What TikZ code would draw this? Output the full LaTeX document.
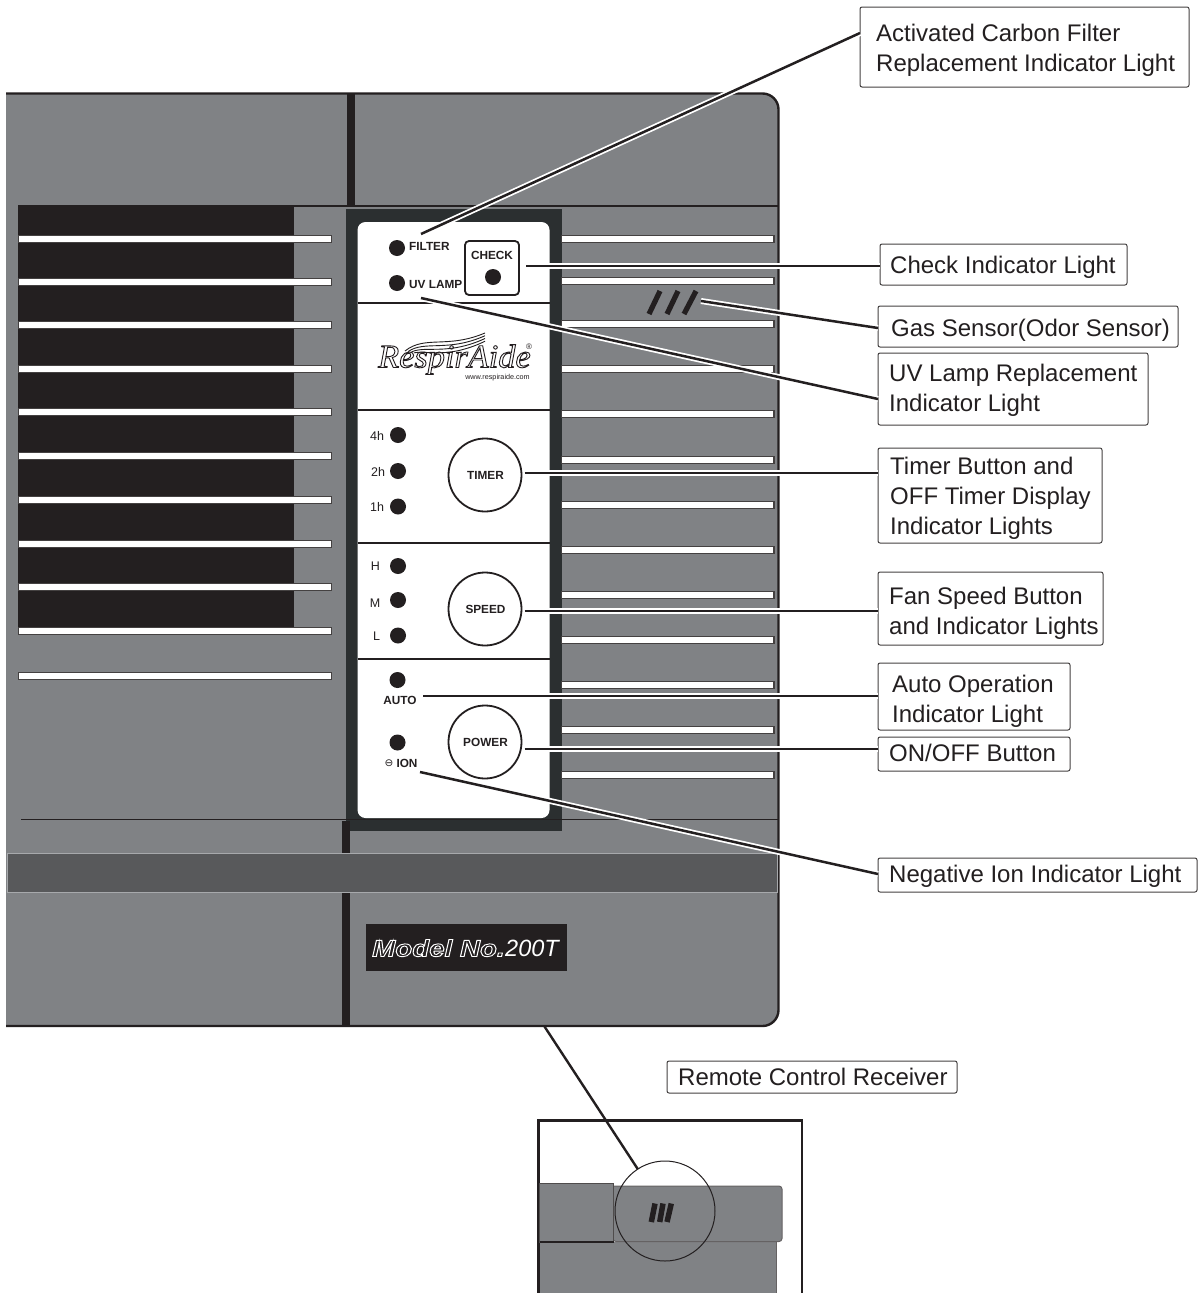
\documentclass[tikz,border=0pt]{standalone}
\usepackage{fontspec}
\setmainfont{Liberation Sans}
\newfontfamily\dejavu{DejaVu Sans}
\newfontfamily\logoserif{Liberation Serif}
\newcommand{\strokedtext}[3]{\special{pdf:code #1 RG #2 w 1 Tr}#3\special{pdf:code 0 Tr}}
\definecolor{ink}{HTML}{231F20}
\definecolor{body}{HTML}{808285}
\definecolor{panel}{HTML}{2B2F30}
\definecolor{band}{HTML}{58595B}
\definecolor{bandedge}{HTML}{A7A9AC}
\tikzset{
  lbl/.style={draw=ink!85,line width=1pt,rounded corners=2pt,fill=white,inner sep=0pt,outer sep=0pt},
  lbltext/.style={anchor=west,text=ink,align=left,inner sep=0pt,font=\fontsize{24}{30}\selectfont},
  leader/.style={draw=ink,line width=2.5pt,preaction={draw=white,line width=6pt}},
  slat/.style={draw=ink!85,line width=1.1pt,fill=white},
  sep/.style={draw=ink,line width=2.4pt},
  lamp/.style={circle,fill=ink,minimum size=16pt,inner sep=0pt,outer sep=0pt},
  btn/.style={circle,draw=ink,line width=1.8pt,fill=white,minimum size=73pt,inner sep=0pt,outer sep=0pt,text=ink,
    font=\fontsize{11.8}{12}\selectfont\bfseries},
  bold/.style={inner sep=0pt,text=ink,font=\fontsize{11.8}{12}\selectfont\bfseries},
  reg/.style={inner sep=0pt,text=ink,font=\fontsize{12.5}{13}\selectfont},
  slant/.style={draw=ink,line width=5.2pt},
}
\begin{document}
\begin{tikzpicture}[x=1pt,y=-1pt]
\useasboundingbox (0,0) rectangle (1204,1293);
% body
\begin{scope}
\clip (6,0) rectangle (800,1100);
\fill[body,rounded corners=16pt] (-40,93.5) rectangle (778.5,1026);
\draw[ink,line width=2.4pt,rounded corners=16pt] (-40,93.5) rectangle (778.5,1026);
\end{scope}
\fill[ink] (347,94) rectangle (354.5,206);
\draw[ink,line width=2pt] (294,205.5) -- (778,205.5);
\fill[ink] (18,205) rectangle (294,627);
% left slats
\foreach \y in {239,282,325,369,412,456,500,544,587,631,676}
  \draw[slat] (18.5,\y-3.5) rectangle (331.5,\y+3.5);
% panel
\fill[panel] (346,209) rectangle (562,831);
\fill[white,rounded corners=8pt] (357.5,222) rectangle (549.5,818);
\foreach \y in {303,410,543,659}
  \draw[sep] (357.5,\y) -- (549.5,\y);
% right slats
\foreach \y in {239,281,324,369,414,460,505,550,595,640,685,730,775}
  \draw[slat] (561.5,\y-3.5) rectangle (774,\y+3.5);
% lower part
\fill[ink] (342,821) rectangle (350,1026);
\draw[ink,line width=0.8pt] (21,819.5) -- (778,819.5);
\draw[bandedge,fill=band,line width=0.8pt] (7.5,853.5) rectangle (777,892.5);
% model plate
\fill[ink] (366,924) rectangle (567,971);
\node[anchor=base west,inner sep=0pt,xscale=1.18,font=\fontsize{23.5}{24}\selectfont\bfseries\itshape] (mdl) at (372,956.5) {\strokedtext{1 1 1}{0.9}{Model No.}};
\node[anchor=base west,inner sep=0pt,text=white,font=\fontsize{23.5}{24}\selectfont\itshape] (mdlnum) at (505,956.5) {200T};
% top panel items
\node[lamp] (dfilter) at (397,248) {};
\node[lamp] (duv) at (397,283) {};
\node[bold,anchor=west] (tfilter) at (409,246.5) {FILTER};
\node[bold,anchor=west] (tuv) at (409,284.5) {UV LAMP};
\node[draw=ink,line width=1.8pt,rounded corners=4pt,minimum width=54pt,minimum height=54pt,inner sep=0pt,outer sep=0pt] (chk) at (492,268) {};
\node[bold] (tchk) at (492,255.5) {CHECK};
\node[lamp] (dchk) at (493,277) {};
% logo
\foreach \d in {0,5,10,15}
  \draw[ink,line width=0.9pt] (405+\d*0.6,351+\d*0.12) .. controls (425,335+\d) and (447,349+\d*0.7) .. (485,333+\d*0.55);
\node[anchor=base west,inner sep=0pt,xscale=1.04,font=\fontsize{33}{34}\selectfont\logoserif\itshape] (logo) at (378,367.5) {\strokedtext{0.14 0.12 0.13}{0.9}{RespirAide}};
\node[inner sep=0pt,text=ink,font=\fontsize{7.2}{8}\selectfont] (url) at (497.5,378) {www.respiraide.com};
\node[inner sep=0pt,text=ink,font=\fontsize{8}{9}\selectfont] (reg) at (529,347) {®};
% timer
\node[lamp] (d4) at (398,435) {};
\node[lamp] (d2) at (398,471) {};
\node[lamp] (d1) at (398,506.5) {};
\node[reg] (t4) at (377,436) {4h};
\node[reg] (t2) at (378,471.5) {2h};
\node[reg] (t1) at (377,507) {1h};
\node[btn] (timer) at (485,475) {\hspace*{1pt}\raisebox{-.5pt}{TIMER}};
% speed
\node[lamp] (dh) at (398,566) {};
\node[lamp] (dm) at (398,600) {};
\node[lamp] (dl) at (398,635.5) {};
\node[reg] (th) at (375.5,566.5) {H};
\node[reg] (tm) at (375,603) {M};
\node[reg] (tl) at (376.5,636.5) {L};
\node[btn] (speed) at (485,609) {\hspace*{1pt}\raisebox{-1pt}{SPEED}};
% power
\node[lamp] (dauto) at (397.5,680) {};
\node[bold] (tauto) at (400,700.5) {AUTO};
\node[lamp] (dion) at (397.5,742.5) {};
\node[inner sep=0pt,text=ink,font=\fontsize{10.5}{11}\selectfont\dejavu] (tminus) at (389,763.5) {⊖};
\node[bold] (tion) at (407,763.5) {ION};
\node[btn] (power) at (485,742) {\hspace*{1pt}\raisebox{-1.5pt}{POWER}};
% gas sensor
\coordinate (g1a) at (660,291); \coordinate (g1b) at (649,314);
\coordinate (g2a) at (678,291); \coordinate (g2b) at (667,314);
\coordinate (g3a) at (696,291); \coordinate (g3b) at (684,314);
\draw[slant] (g1a) -- (g1b);
\draw[slant] (g2a) -- (g2b);
\draw[slant] (g3a) -- (g3b);
% label boxes
\node[lbl,minimum width=329pt,minimum height=80pt] (lA) at (1024.5,47) {};
\node[lbl,minimum width=247pt,minimum height=41pt] (lB) at (1003.5,264.5) {};
\node[lbl,minimum width=300pt,minimum height=41pt] (lC) at (1028,326.5) {};
\node[lbl,minimum width=270pt,minimum height=72pt] (lD) at (1013,389) {};
\node[lbl,minimum width=224pt,minimum height=95pt] (lE) at (990,495.5) {};
\node[lbl,minimum width=225pt,minimum height=73pt] (lF) at (990.5,608.5) {};
\node[lbl,minimum width=192pt,minimum height=67pt] (lG) at (974,696.5) {};
\node[lbl,minimum width=192pt,minimum height=34pt] (lH) at (974,754) {};
\node[lbl,minimum width=319pt,minimum height=34pt] (lI) at (1037.5,875) {};
\node[lbl,minimum width=290pt,minimum height=32pt] (lJ) at (812,1077) {};
% label texts
\node[lbltext] (xA) at (876,50) {Activated Carbon Filter\\Replacement Indicator Light};
\node[lbltext] (xB) at (890,267) {Check Indicator Light};
\node[lbltext] (xC) at (891,330) {Gas Sensor(Odor Sensor)};
\node[lbltext] (xD) at (889,390) {UV Lamp Replacement\\Indicator Light};
\node[lbltext] (xE) at (890,498) {Timer Button and\\OFF Timer Display\\Indicator Lights};
\node[lbltext] (xF) at (889,613) {Fan Speed Button\\and Indicator Lights};
\node[lbltext] (xG) at (892,701) {Auto Operation\\Indicator Light};
\node[lbltext] (xH) at (889,753) {ON/OFF Button};
\node[lbltext] (xI) at (889,876) {Negative Ion Indicator Light};
\node[lbltext] (xJ) at (678,1077) {Remote Control Receiver};
% leaders
\coordinate (sA) at (421,234);
\coordinate (sC) at (701,301);
\coordinate (sD) at (421,298);
\coordinate (sG) at (423,696);
\coordinate (sI) at (420,772);
\draw[leader] (sA) -- ([yshift=14pt]lA.west);
\draw[leader] ([xshift=7pt,yshift=2pt]chk.east) -- ([yshift=-1.5pt]lB.west);
\draw[leader] (sC) -- ([yshift=-1.5pt]lC.west);
\draw[leader] (sD) -- ([yshift=-10pt]lD.west);
\draw[leader] ([xshift=3pt,yshift=2pt]timer.east) -- ([yshift=22.5pt]lE.west);
\draw[leader] ([xshift=3pt,yshift=-2pt]speed.east) -- ([yshift=-2.5pt]lF.west);
\draw[leader] (sG) -- ([yshift=.5pt]lG.west);
\draw[leader] ([xshift=3pt,yshift=-7pt]power.east) -- ([yshift=5pt]lH.west);
\draw[leader] (sI) -- ([yshift=1pt]lI.west);
% remote detail
\draw[ink,line width=2.4pt] (538.5,1293) -- (538.5,1120.5) -- (802,1120.5) -- (802,1293);
\fill[body] (540,1242) rectangle (776,1294);
\draw[ink!70,line width=1pt] (776,1242) -- (776,1293);
\draw[ink!70,line width=1pt,fill=body,rounded corners=3pt] (613,1186) -- (782,1186) -- (782,1241.5) -- (613,1241.5) [sharp corners] -- cycle;
\draw[ink!80,line width=1pt,fill=body] (539.5,1183) rectangle (613.5,1242);
\draw[ink,line width=1.4pt] (539.5,1242) -- (613.5,1242);
\node[circle,draw=ink,line width=1pt,minimum size=100pt,inner sep=0pt,outer sep=0pt] (rcv) at (665,1211) {};
\coordinate (r1a) at (655,1203.5); \coordinate (r1b) at (651.3,1222);
\coordinate (r2a) at (663,1203.5); \coordinate (r2b) at (659.7,1222);
\coordinate (r3a) at (671.3,1203.5); \coordinate (r3b) at (667,1222);
\draw[draw=ink,line width=5.5pt] (r1a) -- (r1b);
\draw[draw=ink,line width=5.5pt] (r2a) -- (r2b);
\draw[draw=ink,line width=5.5pt] (r3a) -- (r3b);
\coordinate (rs) at (544.5,1026.5);
\draw[ink,line width=2.4pt] (rs) -- (rcv.123);
\end{tikzpicture}
\end{document}
